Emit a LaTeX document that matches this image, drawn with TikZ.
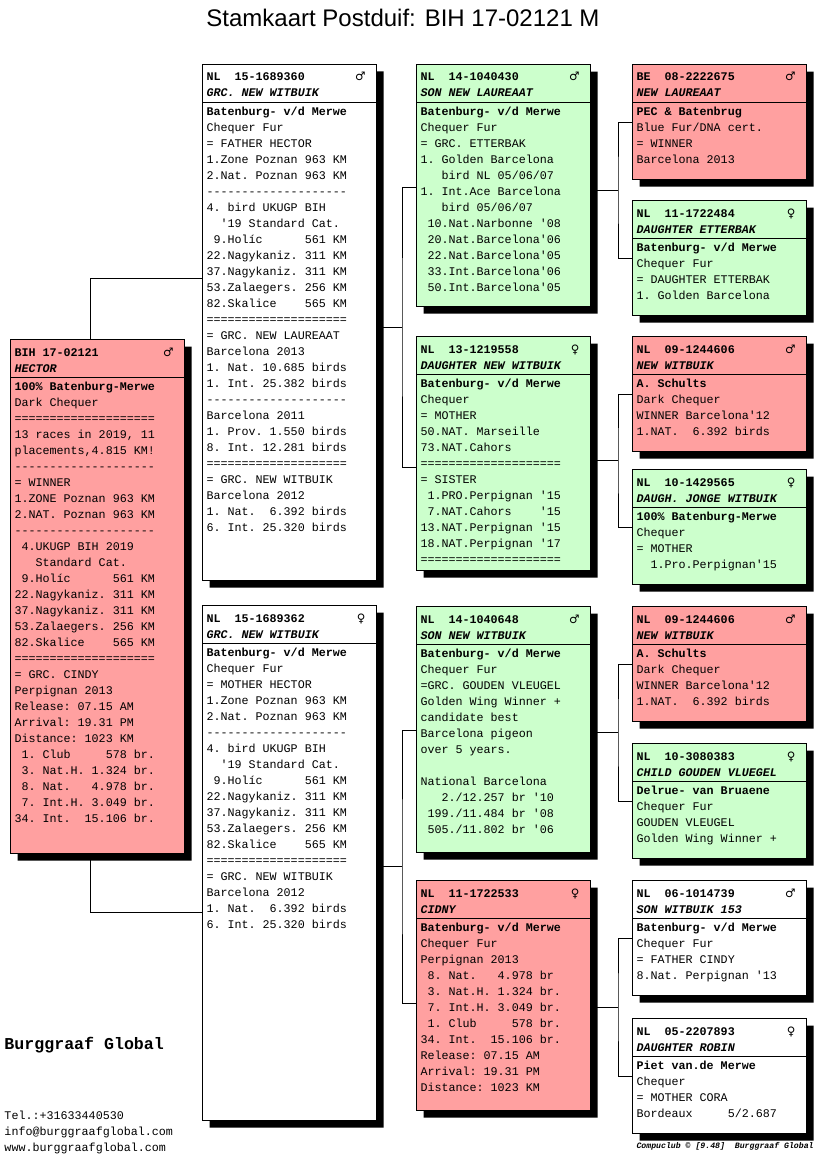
\documentclass[tikz,border=0pt]{standalone}
\usepackage{fontspec}
\setmainfont{Liberation Sans}
\setmonofont{Liberation Mono}[Ligatures=TeXOff]
\newfontfamily\sexfont{DejaVu Sans}
\usetikzlibrary{calc,shadows,shapes.multipart}

\definecolor{pidred}{RGB}{255,160,160}
\definecolor{pidgreen}{RGB}{204,255,204}

\newcommand\boxfont{\fontsize{11.7pt}{16pt}\selectfont\ttfamily\frenchspacing}
\newcommand\lead{\mbox{}}
\newcommand\pidhead[3]{\parbox[t][37pt][t]{166pt}{\boxfont\vspace*{4pt}\rule{0pt}{12pt}\textbf{#1}\hfill{\sexfont #2}\hspace*{7pt}\\\textbf{\textit{#3}}}}
\newcommand\pidbody[2]{\parbox[t][#1][t]{166pt}{\boxfont\rule{0pt}{12pt}\ignorespaces#2}}

\begin{document}
\begin{tikzpicture}[x=1pt,y=-1pt,line width=1pt,
                    pid/.style={draw,rectangle split,rectangle split parts=2,inner xsep=4pt,inner ysep=0pt,anchor=north west,
                                drop shadow={shadow xshift=7pt,shadow yshift=-7pt,opacity=1,fill=black}},
                    redpid/.style={pid,fill=pidred},
                    greenpid/.style={pid,fill=pidgreen},
                    whitepid/.style={pid,fill=white}]
    \useasboundingbox (0,0) rectangle (816,1172);

    \node[anchor=base,inner sep=0pt,font=\fontsize{24pt}{28pt}\selectfont] (title) at (403,27) {Stamkaart Postduif: BIH 17-02121 M};

    % the bird itself
    \node[redpid] (hector) at (10,339) {
        \pidhead{BIH 17-02121}{♂}{HECTOR}
        \nodepart{two}
        \pidbody{475pt}{
            \textbf{100\% Batenburg-Merwe}\\
            Dark Chequer\\
            ====================\\
            13 races in 2019, 11\\
            placements,4.815 KM!\\
            --------------------\\
            = WINNER\\
            1.ZONE Poznan 963 KM\\
            2.NAT. Poznan 963 KM\\
            --------------------\\
            \lead~4.UKUGP BIH 2019\\
            \lead~~~Standard Cat.\\
            \lead~9.Holíc~~~~~~561 KM\\
            22.Nagykaniz. 311 KM\\
            37.Nagykaniz. 311 KM\\
            53.Zalaegers. 256 KM\\
            82.Skalice~~~~565 KM\\
            ====================\\
            = GRC. CINDY\\
            Perpignan 2013\\
            Release: 07.15 AM\\
            Arrival: 19.31 PM\\
            Distance: 1023 KM\\
            \lead~1. Club~~~~~578 br.\\
            \lead~3. Nat.H. 1.324 br.\\
            \lead~8. Nat.~~~4.978 br.\\
            \lead~7. Int.H. 3.049 br.\\
            34. Int.~~15.106 br.
        }
    };

    % parents
    \node[whitepid] (s) at (202,64) {
        \pidhead{NL~~15-1689360}{♂}{GRC. NEW WITBUIK}
        \nodepart{two}
        \pidbody{477pt}{
            \textbf{Batenburg- v/d Merwe}\\
            Chequer Fur\\
            = FATHER HECTOR\\
            1.Zone Poznan 963 KM\\
            2.Nat. Poznan 963 KM\\
            --------------------\\
            4. bird UKUGP BIH\\
            \lead~~'19 Standard Cat.\\
            \lead~9.Holíc~~~~~~561 KM\\
            22.Nagykaniz. 311 KM\\
            37.Nagykaniz. 311 KM\\
            53.Zalaegers. 256 KM\\
            82.Skalice~~~~565 KM\\
            ====================\\
            = GRC. NEW LAUREAAT\\
            Barcelona 2013\\
            1. Nat. 10.685 birds\\
            1. Int. 25.382 birds\\
            --------------------\\
            Barcelona 2011\\
            1. Prov. 1.550 birds\\
            8. Int. 12.281 birds\\
            ====================\\
            = GRC. NEW WITBUIK\\
            Barcelona 2012\\
            1. Nat.~~6.392 birds\\
            6. Int. 25.320 birds
        }
    };

    \node[whitepid] (d) at (202,605) {
        \pidhead{NL~~15-1689362}{♀}{GRC. NEW WITBUIK}
        \nodepart{two}
        \pidbody{476pt}{
            \textbf{Batenburg- v/d Merwe}\\
            Chequer Fur\\
            = MOTHER HECTOR\\
            1.Zone Poznan 963 KM\\
            2.Nat. Poznan 963 KM\\
            --------------------\\
            4. bird UKUGP BIH\\
            \lead~~'19 Standard Cat.\\
            \lead~9.Holíc~~~~~~561 KM\\
            22.Nagykaniz. 311 KM\\
            37.Nagykaniz. 311 KM\\
            53.Zalaegers. 256 KM\\
            82.Skalice~~~~565 KM\\
            ====================\\
            = GRC. NEW WITBUIK\\
            Barcelona 2012\\
            1. Nat.~~6.392 birds\\
            6. Int. 25.320 birds
        }
    };

    % grandparents
    \node[greenpid] (ss) at (416,64) {
        \pidhead{NL~~14-1040430}{♂}{SON NEW LAUREAAT}
        \nodepart{two}
        \pidbody{203pt}{
            \textbf{Batenburg- v/d Merwe}\\
            Chequer Fur\\
            = GRC. ETTERBAK\\
            1. Golden Barcelona\\
            \lead~~~bird NL 05/06/07\\
            1. Int.Ace Barcelona\\
            \lead~~~bird 05/06/07\\
            \lead~10.Nat.Narbonne '08\\
            \lead~20.Nat.Barcelona'06\\
            \lead~22.Nat.Barcelona'05\\
            \lead~33.Int.Barcelona'06\\
            \lead~50.Int.Barcelona'05
        }
    };

    \node[greenpid] (sd) at (416,336) {
        \pidhead{NL~~13-1219558}{♀}{DAUGHTER NEW WITBUIK}
        \nodepart{two}
        \pidbody{195pt}{
            \textbf{Batenburg- v/d Merwe}\\
            Chequer\\
            = MOTHER\\
            50.NAT. Marseille\\
            73.NAT.Cahors\\
            ====================\\
            = SISTER\\
            \lead~1.PRO.Perpignan '15\\
            \lead~7.NAT.Cahors~~~~'15\\
            13.NAT.Perpignan '15\\
            18.NAT.Perpignan '17\\
            ====================
        }
    };

    \node[greenpid] (ds) at (416,606) {
        \pidhead{NL~~14-1040648}{♂}{SON NEW WITBUIK}
        \nodepart{two}
        \pidbody{207pt}{
            \textbf{Batenburg- v/d Merwe}\\
            Chequer Fur\\
            =GRC. GOUDEN VLEUGEL\\
            Golden Wing Winner +\\
            candidate best\\
            Barcelona pigeon\\
            over 5 years.\\
            \mbox{}\\
            National Barcelona\\
            \lead~~~2./12.257 br '10\\
            \lead~199./11.484 br '08\\
            \lead~505./11.802 br '06
        }
    };

    \node[redpid] (dd) at (416,880) {
        \pidhead{NL~~11-1722533}{♀}{CIDNY}
        \nodepart{two}
        \pidbody{191pt}{
            \textbf{Batenburg- v/d Merwe}\\
            Chequer Fur\\
            Perpignan 2013\\
            \lead~8. Nat.~~~4.978 br\\
            \lead~3. Nat.H. 1.324 br.\\
            \lead~7. Int.H. 3.049 br.\\
            \lead~1. Club~~~~~578 br.\\
            34. Int.~~15.106 br.\\
            Release: 07.15 AM\\
            Arrival: 19.31 PM\\
            Distance: 1023 KM
        }
    };

    % great-grandparents
    \node[redpid] (sss) at (632,64) {
        \pidhead{BE~~08-2222675}{♂}{NEW LAUREAAT}
        \nodepart{two}
        \pidbody{76pt}{\textbf{PEC \& Batenbrug}\\ Blue Fur/DNA cert.\\ = WINNER\\ Barcelona 2013}
    };
    \node[greenpid] (ssd) at (632,200) {
        \pidhead{NL~~11-1722484}{♀}{DAUGHTER ETTERBAK}
        \nodepart{two}
        \pidbody{76pt}{\textbf{Batenburg- v/d Merwe}\\ Chequer Fur\\ = DAUGHTER ETTERBAK\\ 1. Golden Barcelona}
    };
    \node[redpid] (sds) at (632,336) {
        \pidhead{NL~~09-1244606}{♂}{NEW WITBUIK}
        \nodepart{two}
        \pidbody{76pt}{\textbf{A. Schults}\\ Dark Chequer\\ WINNER Barcelona'12\\ 1.NAT.~~6.392 birds}
    };
    \node[greenpid] (sdd) at (632,469) {
        \pidhead{NL~~10-1429565}{♀}{DAUGH. JONGE WITBUIK}
        \nodepart{two}
        \pidbody{76pt}{\textbf{100\% Batenburg-Merwe}\\ Chequer\\ = MOTHER\\ \lead~~1.Pro.Perpignan'15}
    };
    \node[redpid] (dss) at (632,606) {
        \pidhead{NL~~09-1244606}{♂}{NEW WITBUIK}
        \nodepart{two}
        \pidbody{76pt}{\textbf{A. Schults}\\ Dark Chequer\\ WINNER Barcelona'12\\ 1.NAT.~~6.392 birds}
    };
    \node[greenpid] (dsd) at (632,743) {
        \pidhead{NL~~10-3080383}{♀}{CHILD GOUDEN VLUEGEL}
        \nodepart{two}
        \pidbody{76pt}{\textbf{Delrue- van Bruaene}\\ Chequer Fur\\ GOUDEN VLEUGEL\\ Golden Wing Winner +}
    };
    \node[whitepid] (dds) at (632,880) {
        \pidhead{NL~~06-1014739}{♂}{SON WITBUIK 153}
        \nodepart{two}
        \pidbody{76pt}{\textbf{Batenburg- v/d Merwe}\\ Chequer Fur\\ = FATHER CINDY\\ 8.Nat. Perpignan '13}
    };
    \node[whitepid] (ddd) at (632,1018) {
        \pidhead{NL~~05-2207893}{♀}{DAUGHTER ROBIN}
        \nodepart{two}
        \pidbody{76pt}{\textbf{Piet van.de Merwe}\\ Chequer\\ = MOTHER CORA\\ Bordeaux~~~~~5/2.687}
    };

    % lines to the parents
    \draw ([xshift=-7pt]hector.north) |- ([yshift=-214pt]s.north west);
    \draw ([xshift=-7pt]hector.south) |- ([yshift=-307pt]d.north west);

    % lines to the grandparents
    \coordinate (ssin) at ([yshift=-123pt]ss.north west);
    \coordinate (sdin) at ([yshift=-131pt]sd.north west);
    \coordinate (forks) at ($(ssin)!0.5!(sdin)+(-14,0)$);
    \draw (ssin) -| (forks) |- (sdin);
    \draw (s.east |- forks) -- (forks);

    \coordinate (dsin) at ([yshift=-124pt]ds.north west);
    \coordinate (ddin) at ([yshift=-123pt]dd.north west);
    \coordinate (forkd) at ($(dsin)!0.5!(ddin)+(-14,0)$);
    \draw (dsin) -| (forkd) |- (ddin);
    \draw (d.east |- forkd) -- (forkd);

    % lines to the great-grandparents
    \coordinate (forkss) at ($(sss.west)!0.5!(ssd.west)+(-14,0)$);
    \draw (sss.west) -| (forkss) |- (ssd.west);
    \draw (ss.east |- forkss) -- (forkss);

    \coordinate (forksd) at ($(sds.west)!0.5!(sdd.west)+(-14,0)$);
    \draw (sds.west) -| (forksd) |- (sdd.west);
    \draw (sd.east |- forksd) -- (forksd);

    \coordinate (forkds) at ($(dss.west)!0.5!(dsd.west)+(-14,0)$);
    \draw (dss.west) -| (forkds) |- (dsd.west);
    \draw (ds.east |- forkds) -- (forkds);

    \coordinate (forkdd) at ($(dds.west)!0.5!(ddd.west)+(-14,0)$);
    \draw (dds.west) -| (forkdd) |- (ddd.west);
    \draw (dd.east |- forkdd) -- (forkdd);

    % owner and footer
    \node[anchor=base west,inner sep=0pt,font=\fontsize{16.6pt}{20pt}\selectfont\ttfamily\bfseries] (owner) at (4,1049) {Burggraaf Global};
    \node[anchor=north west,inner sep=0pt] (contact) at (4,1107) {
        \parbox[t]{200pt}{\boxfont\rule{0pt}{12pt}Tel.:+31633440530\\ info@burggraafglobal.com\\ www.burggraafglobal.com}
    };
    \node[anchor=base west,inner sep=0pt,font=\fontsize{8.2pt}{10pt}\selectfont\ttfamily\bfseries\itshape] (credit) at (636,1148) {Compuclub © [9.48]~~Burggraaf Global};
\end{tikzpicture}
\end{document}
